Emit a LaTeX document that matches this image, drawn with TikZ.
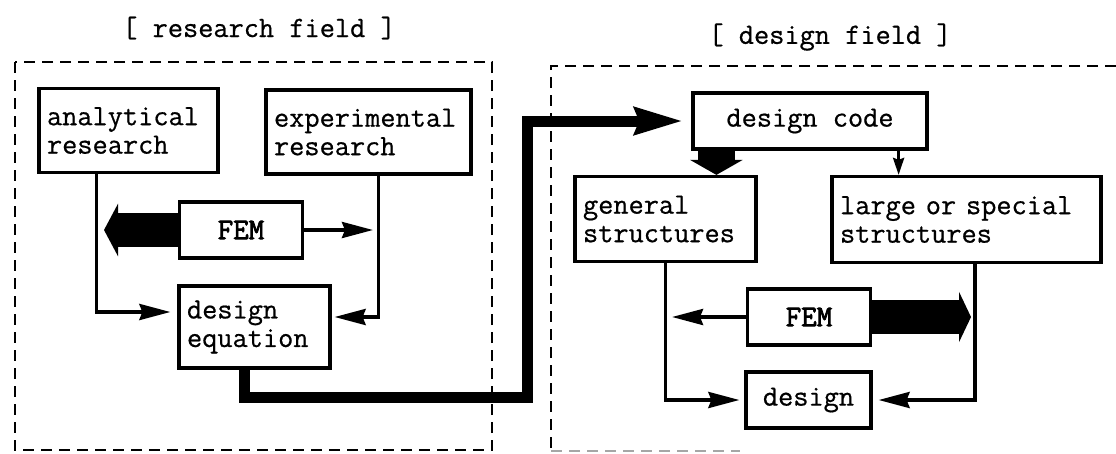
\documentclass[tikz,border=0pt]{standalone}
\usepackage{fontspec}
\usepackage{tikz}
\usetikzlibrary{arrows.meta}
\newfontfamily\typew{Latin Modern Mono}[FakeBold=0.6]
\newfontfamily\typewbf{Latin Modern Mono}[FakeBold=2.6]

\begin{document}
\begin{tikzpicture}[x=1pt,y=-1pt,
  every node/.style={font=\typew\fontsize{29.5}{28.5}\selectfont},
  box/.style={draw,line width=3.2pt,inner xsep=8pt,inner ysep=0pt,align=left},
  femb/.style={draw,line width=3.2pt,inner sep=0pt,minimum width=123pt,minimum height=56pt,
    font=\typewbf\fontsize{30}{28.5}\selectfont},
  frame/.style={line width=2.2pt,dash pattern=on 11pt off 7pt},
  link/.style={line width=3.6pt,line join=miter,-{Stealth[length=31pt,width=16pt,inset=3pt]}},
  pipe/.style={line width=11pt,line join=miter,-{Stealth[length=48pt,width=26pt,inset=4pt]}},
  fat/.style={line width=34pt,-{Triangle[length=14pt,width=52pt]}}
]
\useasboundingbox (0,0) rectangle (1116,453);

% the two fields
\draw[frame] (15,62) rectangle (492,450);
\draw[frame] (1116,66) -- (551,66) -- (551,451);
\draw[frame,black!35] (551,451) -- (740,451); % faint in the print
\node (hres) at (259,28) {[ research field ]};
\node (hdes) at (830,37) {[ design field ]};

% research field
\node[box,text width=163pt,minimum height=84pt] (ana) at (128.5,130.5) {analytical\\research};
\node[box,text width=189pt,minimum height=84pt] (exp) at (368.5,132) {experimental\\research};
\node[box,text width=135pt,minimum height=82pt] (deq) at (254.5,327) {design\\equation};

% design field
\node[box,minimum width=234pt,minimum height=56pt] (code) at (810,121) {design code};
\node[box,text width=165pt,minimum height=85pt] (gen) at (665.5,219) {general\\structures};
\node[box,text width=253pt,minimum height=86pt] (large) at (966.5,219.5) {large or special\\structures};
\node[box,minimum width=125pt,minimum height=56pt] (dsg) at (808.5,400) {design};

\foreach \name/\x/\y in {femL/241/230, femR/809/317}
  \node[femb] (\name) at (\x,\y) {FEM};

\coordinate (fatL) at (104,230);
\coordinate (femLout) at (373,230);
\coordinate (fatR) at (971,317);
\coordinate (femRout) at (672,317);
\coordinate (turn) at (527,397);
\coordinate (cdown) at ([xshift=25pt]code.south west);
\coordinate (cside) at ([xshift=-30pt]code.south east);

\draw[link,shorten >=7pt] ([xshift=59pt]ana.south west) |- ([yshift=15pt]deq.west);
\draw[link,shorten >=3pt] ([xshift=114pt]exp.south west) |- ([yshift=10pt]deq.east);
\draw[fat] (femL.west) -- (fatL);
\draw[link] (femL.east) -- (femLout);

\draw[pipe,shorten >=8pt] ([xshift=-10pt]deq.south) |- (turn) |- (code.west);

\draw[fat,line width=37pt,-{Triangle[length=15pt,width=52pt]}] (cdown) -- (cdown |- gen.north);
\draw[link,line width=3pt,-{Stealth[length=17pt,width=11pt,inset=2pt]}] (cside) -- (cside |- large.north);
\draw[link,shorten >=5pt] (gen.south) |- (dsg.west);
\draw[link,shorten >=6pt] ([xshift=8.5pt]large.south) |- (dsg.east);
\draw[link] (femR.west) -- (femRout);
\draw[fat,-{Triangle[length=12pt,width=50pt]}] (femR.east) -- (fatR);
\end{tikzpicture}
\end{document}
